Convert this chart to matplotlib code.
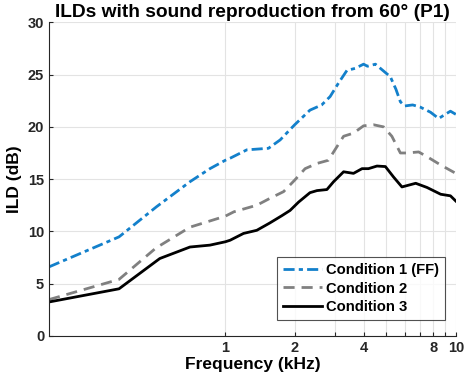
import matplotlib
matplotlib.use("Agg")
import matplotlib.pyplot as plt

plt.rcParams['font.family'] = ['Liberation Sans', 'DejaVu Sans']
plt.rcParams['font.weight'] = 'bold'

title = "ILDs with sound reproduction from 60° (P1)"
xlabel = "Frequency (kHz)"
ylabel = "ILD (dB)"

freq_c1 = [0.172, 0.346, 0.503, 0.703, 0.858, 1.0, 1.05, 1.24, 1.54, 1.73, 2.0, 2.33, 2.62,
           2.85, 3.10, 3.37, 3.66, 3.98, 4.14, 4.48, 5.2, 5.5, 5.75, 6.0, 6.5, 7.0,
           7.77, 8.43, 9.0, 9.48, 10.0]
ild_c1 = [6.6, 9.47, 12.35, 14.75, 16.0, 16.8, 17.0, 17.8, 17.95, 18.75, 20.2, 21.6, 22.1,
          22.9, 24.2, 25.4, 25.6, 26.0, 25.8, 26.0, 24.8, 23.6, 22.4, 22.0, 22.1, 21.9,
          21.4, 20.8, 21.2, 21.5, 21.2]

freq_c2 = [0.172, 0.346, 0.5, 0.703, 1.0, 1.09, 1.37, 1.56, 1.79, 2.0, 2.22, 2.5, 2.8,
           3.05, 3.26, 3.6, 3.98, 4.4, 4.86, 5.28, 5.75, 6.14, 6.9, 7.5, 8.6, 10.0]
ild_c2 = [3.47, 5.4, 8.4, 10.4, 11.45, 11.87, 12.5, 13.15, 13.8, 14.9, 16.0, 16.5, 16.8,
          18.1, 19.1, 19.4, 20.1, 20.2, 20.0, 19.1, 17.5, 17.5, 17.6, 17.15, 16.35, 15.55]

freq_c3 = [0.172, 0.346, 0.52, 0.703, 0.858, 1.0, 1.05, 1.2, 1.37, 1.56, 1.76, 1.91, 2.08,
           2.33, 2.5, 2.76, 2.95, 3.26, 3.6, 3.92, 4.18, 4.55, 4.95, 5.37, 5.84, 6.7, 7.5,
           8.6, 9.48, 10.0]
ild_c3 = [3.24, 4.5, 7.4, 8.5, 8.68, 9.0, 9.15, 9.8, 10.1, 10.8, 11.5, 12.0, 12.8,
          13.7, 13.9, 14.0, 14.75, 15.7, 15.55, 16.0, 16.0, 16.25, 16.2, 15.2, 14.25, 14.6,
          14.2, 13.55, 13.4, 12.9]

labels = ["Condition 1 (FF)", "Condition 2", "Condition 3"]
xtick_vals = [1, 2, 3, 4, 5, 6, 7, 8, 9, 10]
xtick_labels = ["1", "2", "", "4", "", "", "", "8", "", "10"]
ytick_vals = [0, 5, 10, 15, 20, 25, 30]

fig = plt.figure(figsize=(4.67, 3.86), dpi=100)
ax = fig.add_axes([0.105, 0.130, 0.871, 0.812])

ax.plot(freq_c1, ild_c1, color='#1380CB', lw=2, linestyle=(0, (4, 1.5, 1.5, 1.5)), label=labels[0])
ax.plot(freq_c2, ild_c2, color='#808080', lw=2, linestyle=(0, (4, 2.5)), label=labels[1])
ax.plot(freq_c3, ild_c3, color='black', lw=2, linestyle='-', label=labels[2])

ax.set_xscale('log')
ax.set_xlim(0.172, 10)
ax.set_ylim(0, 30)
ax.set_xticks(xtick_vals)
ax.set_xticklabels(xtick_labels)
ax.minorticks_off()
ax.set_xticks([], minor=True)
ax.set_yticks(ytick_vals)

ax.grid(True, color='#e3e3e3', lw=0.8)
ax.set_axisbelow(True)
for s in ['top', 'right']:
    ax.spines[s].set_visible(False)
for s in ['left', 'bottom']:
    ax.spines[s].set_color('#262626')
    ax.spines[s].set_linewidth(0.8)
ax.tick_params(direction='in', length=3, colors='#262626', labelsize=10.5, width=0.8)
for lab in ax.get_xticklabels() + ax.get_yticklabels():
    lab.set_fontweight('bold')
    lab.set_color('#262626')

ax.set_title(title, fontsize=13.8, fontweight='bold', pad=4)
ax.set_xlabel(xlabel, fontsize=12.5, fontweight='bold', labelpad=2)
ax.set_ylabel(ylabel, fontsize=12.5, fontweight='bold', labelpad=4)

leg = ax.legend(loc='lower right', bbox_to_anchor=(0.973, 0.051), fontsize=10.6,
                frameon=True, fancybox=False, edgecolor='#262626', handlelength=2.6,
                borderpad=0.4, labelspacing=0.3, handletextpad=0.3, borderaxespad=0)
leg.get_frame().set_linewidth(0.8)
for t in leg.get_texts():
    t.set_fontweight('bold')

fig.savefig('out.png', dpi=100)
